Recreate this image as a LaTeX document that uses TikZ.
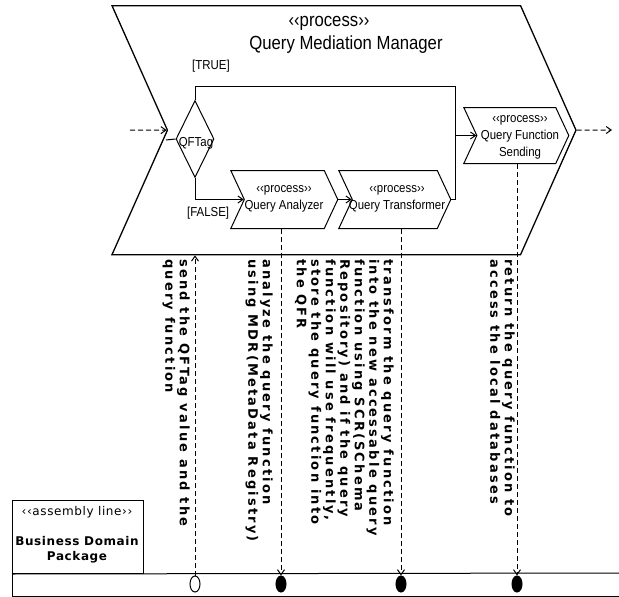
\documentclass[tikz,border=0pt]{standalone}
\usepackage{fontspec}
\setmainfont{Liberation Sans}
\newfontfamily\umlfont[FakeStretch=0.88]{Liberation Sans}
\newfontfamily\notefont[LetterSpace=17]{DejaVu Sans}
\newfontfamily\boxfont[LetterSpace=5]{DejaVu Sans}
\usetikzlibrary{shapes.symbols,shapes.geometric,arrows.meta}

\begin{document}
\begin{tikzpicture}[x=1pt, y=-1pt,
  bigproc/.style={shape=signal, draw, signal from=west, signal to=east, signal pointer angle=132, inner sep=0pt, line width=1.3pt},
  proc/.style={shape=signal, draw, signal from=west, signal to=east, signal pointer angle=130, inner sep=0pt, line width=1pt, anchor=north west},
  umltext/.style={inner sep=0pt, align=center, font=\umlfont\fontsize{13}{17}\selectfont},
  titletext/.style={inner sep=0pt, font=\umlfont\fontsize{19}{21}\selectfont},
  decision/.style={shape=diamond, draw, inner sep=0pt, minimum width=38pt, minimum height=77pt, line width=1pt},
  dot/.style={shape=ellipse, draw, fill=black, inner sep=0pt, minimum width=10pt, minimum height=16pt, line width=1pt},
  note/.style={rotate=-90, anchor=north west, align=left, inner sep=0pt, font=\notefont\bfseries\fontsize{13}{14.5}\selectfont},
  boxtext/.style={inner sep=0pt, align=center, font=\boxfont\fontsize{12}{15}\selectfont},
  flow/.style={line width=1pt, -{Straight Barb[length=5pt,width=7pt]}},
  msg/.style={line width=1pt, dash pattern=on 5pt off 3pt, -{Straight Barb[length=5pt,width=7pt]}},
  line/.style={line width=1pt}]

\useasboundingbox (0,0) rectangle (619,597);

%% PROCESO PRINCIPAL
\node[bigproc, anchor=north west, minimum width=464pt, minimum height=249pt] at (111,5) (qmm) {};
\node[titletext] at (329,23) (qmmster) {‹‹process››};
\node[titletext] at (346,45) (qmmname) {Query Mediation Manager};

% entrada y salida
\coordinate (qmmin) at (130,130);
\coordinate (qmmout) at (612,130);
\draw[msg] (qmmin) -- (qmm.west);
\draw[msg] (qmm.east) -- (qmmout);

% Decision
\node[decision] at (195,139) (qftag) {};
\node[umltext] at (196,143) (qftagtxt) {QFTag};
\coordinate (tagentry) at (166,140);
\draw[line] (tagentry) -- (qftag.west);

% Subprocesos
\node[proc, minimum width=107pt, minimum height=58pt] at (230,170) (qa) {};
\node[umltext] at (284,199) (qatxt) {‹‹process››\\Query Analyzer};

\node[proc, minimum width=112pt, minimum height=58pt] at (338,170) (qt) {};
\node[umltext] at (397,199) (qttxt) {‹‹process››\\Query Transformer};

\node[proc, minimum width=105pt, minimum height=56pt] at (463,107) (qfs) {};
\node[umltext] at (520,137) (qfstxt) {‹‹process››\\Query Function\\Sending};

% Flujo
\coordinate (bend) at (455,86);
\node[umltext, anchor=west] at (192,66) (truelbl) {[TRUE]};
\node[umltext, anchor=west] at (187,213) (falselbl) {[FALSE]};
\draw[line] (qftag.north) |- (bend);
\draw[flow] (bend) |- (qfs.west);
\draw[flow] (qftag.south) |- (qa.west);
\draw[flow] (qa.east) -- (qt.west);
\draw[line] (qt.east) -| (bend);

%% LINEA DE ENSAMBLE
\node[draw, line width=1pt, anchor=north west, minimum width=131pt, minimum height=73pt, inner sep=0pt] at (12,500) (bdp) {};
\node[boxtext] at (77,512) (bdpster) {‹‹assembly line››};
\node[boxtext, font=\boxfont\bfseries\fontsize{12}{15}\selectfont] at (77,550) (bdpname) {Business Domain\\Package};
\coordinate (laneend) at (619,573);
\coordinate (lanecorner) at (12,596);
\coordinate (lanebottom) at (619,596);
\draw[line] (bdp.south west) -- (laneend);
\draw[line] (bdp.south west) -- (lanecorner) -- (lanebottom);

% Puntos
\node[dot, fill=white] at (195,584) (tagdot) {};
\node[dot] at (281,584) (qadot) {};
\node[dot] at (401,584) (qtdot) {};
\node[dot] at (517,584) (qfsdot) {};

% Mensajes
\draw[msg] (tagdot.north) -- (tagdot |- qmm.south);
\draw[msg] (qadot |- qa.south) -- (qadot.north);
\draw[msg] (qtdot |- qt.south) -- (qtdot.north);
\draw[msg] (qfsdot |- qfs.south) -- (qfsdot.north);

% Notas
\node[note] at (190,259) (tagnote) {send the QFTag value and the\\query function};
\node[note] at (273,259) (qanote) {analyze the query function\\using MDR(MetaData Registry)};
\node[note] at (394,259) (qtnote) {transform the query function\\into the new accessable query\\function using SCR(SChema\\Repository) and if the query\\function will use frequently,\\store the query function into\\the QFR};
\node[note] at (515,259) (qfsnote) {return the query function to\\access the local databases};

\end{tikzpicture}
\end{document}
